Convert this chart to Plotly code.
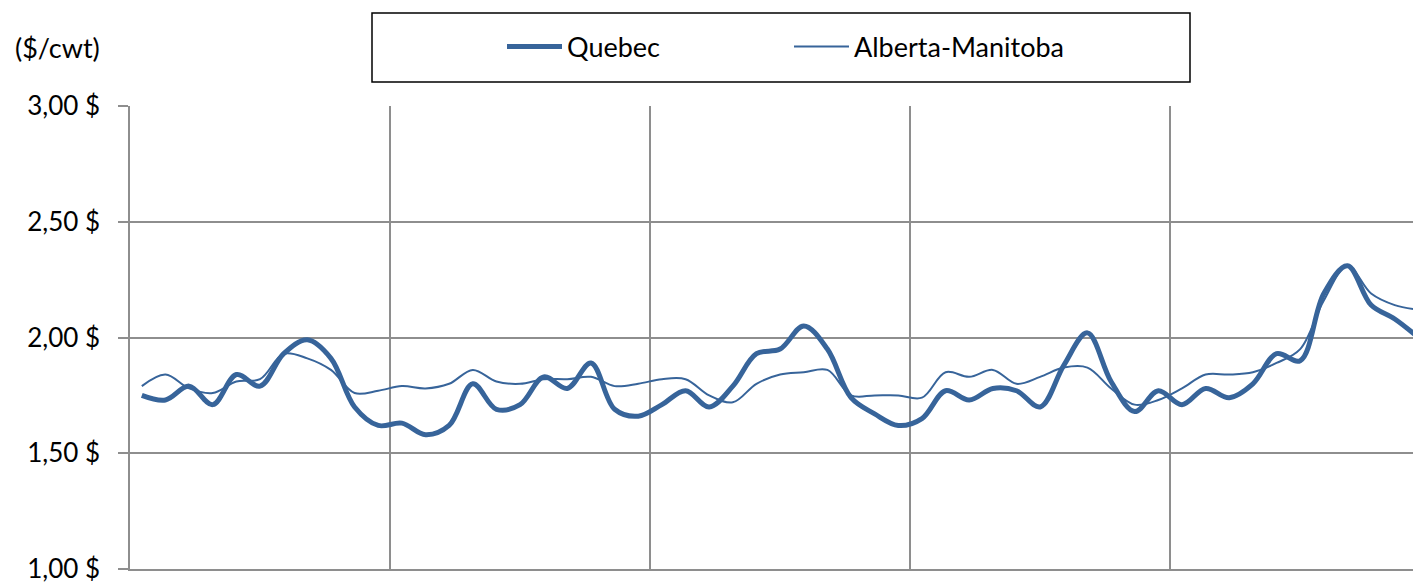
import plotly.graph_objects as go

periods = list(range(55))

quebec = [1.75, 1.73, 1.79, 1.71, 1.84, 1.79, 1.93, 1.99, 1.91, 1.70, 1.62,
          1.63, 1.58, 1.62, 1.80, 1.69, 1.71, 1.83, 1.78, 1.89, 1.69, 1.66,
          1.71, 1.77, 1.70, 1.79, 1.93, 1.95, 2.05, 1.95, 1.74, 1.67, 1.62,
          1.65, 1.77, 1.73, 1.78, 1.77, 1.70, 1.88, 2.02, 1.81, 1.68, 1.77,
          1.71, 1.78, 1.74, 1.80, 1.93, 1.90, 2.19, 2.31, 2.14, 2.08, 2.00]

alberta_manitoba = [1.79, 1.84, 1.78, 1.76, 1.81, 1.82, 1.93, 1.91, 1.86, 1.76, 1.77,
                    1.79, 1.78, 1.80, 1.86, 1.81, 1.80, 1.82, 1.82, 1.83, 1.79, 1.80,
                    1.82, 1.82, 1.75, 1.72, 1.80, 1.84, 1.85, 1.86, 1.75, 1.75, 1.75,
                    1.74, 1.85, 1.83, 1.86, 1.80, 1.83, 1.87, 1.87, 1.78, 1.71, 1.73,
                    1.78, 1.84, 1.84, 1.85, 1.89, 1.95, 2.16, 2.31, 2.19, 2.14, 2.12]

y_tick_values = [1.0, 1.5, 2.0, 2.5, 3.0]
y_tick_labels = ["1,00 $", "1,50 $", "2,00 $", "2,50 $", "3,00 $"]
x_group_bounds = [10.5, 21.5, 32.5, 43.5]

LINE = "#37649A"
GRID = "#8E8E8E"
FONT = "Lato"

fig = go.Figure()
fig.add_trace(go.Scatter(x=periods, y=quebec, mode="lines", name="Quebec",
                         line=dict(color=LINE, width=5, shape="spline", smoothing=1.0)))
fig.add_trace(go.Scatter(x=periods, y=alberta_manitoba, mode="lines", name="Alberta-Manitoba",
                         line=dict(color=LINE, width=2, shape="spline", smoothing=1.0)))

OFF = 8  # page body margin
W, H = 1413, 582
ml, mr, mt, mb = 122, 0, 98, 21
pw, ph = W - ml - mr, H - mt - mb

def px_x(x):
    return (x - OFF - ml) / pw

def px_y(y):
    return (H - mb - (y - OFF)) / ph

fig.update_layout(
    width=W, height=H,
    margin=dict(l=ml, r=mr, t=mt, b=mb, pad=0),
    paper_bgcolor="white", plot_bgcolor="white",
    font=dict(family=FONT, size=26, color="black"),
    showlegend=True,
    legend=dict(orientation="h", x=px_x(502), xanchor="left",
                y=px_y(47), yanchor="middle",
                itemwidth=55, entrywidth=217, entrywidthmode="pixels",
                font=dict(family=FONT, size=27, color="black"),
                bgcolor="rgba(0,0,0,0)", borderwidth=0,
                itemclick=False, itemdoubleclick=False),
    xaxis=dict(range=[-0.5, -0.5 + pw / 23.64], tickvals=x_group_bounds,
               showticklabels=False, ticks="", showgrid=True, gridcolor=GRID, gridwidth=1.5,
               zeroline=False, showline=True, linecolor=GRID, linewidth=1.5, fixedrange=True),
    yaxis=dict(range=[1, 3], tickvals=y_tick_values, ticktext=y_tick_labels,
               ticks="outside", ticklen=10, tickcolor=GRID, tickwidth=1.5,
               ticklabelstandoff=13, ticklabeloverflow="allow",
               showgrid=True, gridcolor=GRID, gridwidth=1.5, zeroline=False,
               showline=True, linecolor=GRID, linewidth=1.5,
               tickfont=dict(family=FONT, size=26, color="black"), fixedrange=True),
    shapes=[dict(type="rect", xref="paper", yref="paper",
                 x0=px_x(372), x1=px_x(1190), y0=px_y(82), y1=px_y(13),
                 line=dict(color="black", width=1.5), fillcolor="rgba(0,0,0,0)", layer="above")],
    annotations=[dict(text="($/cwt)", xref="paper", yref="paper",
                      x=px_x(102), y=px_y(47), xanchor="right", yanchor="middle",
                      showarrow=False, font=dict(family=FONT, size=27, color="black"))],
)

fig.write_html("out.html")
